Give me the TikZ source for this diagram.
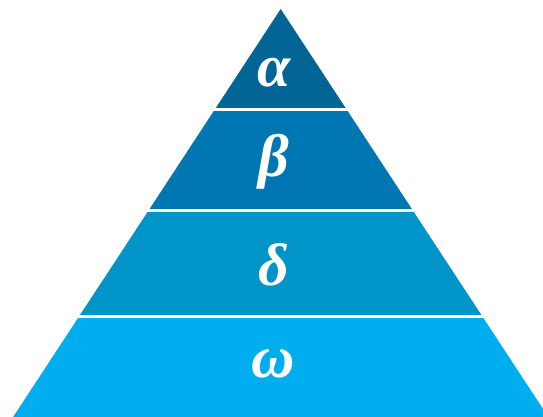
\documentclass[tikz,border=0pt]{standalone}
\usepackage{fontspec}
\usepackage{tikz}
\usetikzlibrary{calc}
\newfontfamily\greekfont{Liberation Serif}
\definecolor{clrA}{RGB}{3,101,150}
\definecolor{clrB}{RGB}{0,118,178}
\definecolor{clrD}{RGB}{1,148,201}
\definecolor{clrW}{RGB}{0,174,239}
\tikzset{
  layer/.style={draw=none},
  gap/.style={draw=white,line width=3pt},
  letter/.style={text=white,anchor=base,inner sep=0pt,
    font=\fontsize{60}{64}\selectfont\greekfont\bfseries\itshape}
}
\begin{document}
\begin{tikzpicture}[x=1pt,y=1pt]
  \useasboundingbox (0,0) rectangle (543,417);

  \coordinate (apex) at (280.7,408);
  \coordinate (bl) at (13.1,0);
  \coordinate (br) at (548.3,0);

  \coordinate (al) at ($(apex)!0.2463!(bl)$);
  \coordinate (ar) at ($(apex)!0.2463!(br)$);
  \coordinate (betl) at ($(apex)!0.4951!(bl)$);
  \coordinate (betr) at ($(apex)!0.4951!(br)$);
  \coordinate (dl) at ($(apex)!0.7525!(bl)$);
  \coordinate (dr) at ($(apex)!0.7525!(br)$);

  % the four layers, top to bottom
  \fill[layer,clrA] (apex) -- (al) -- (ar) -- cycle;
  \fill[layer,clrB] (al) -- (betl) -- (betr) -- (ar) -- cycle;
  \fill[layer,clrD] (betl) -- (dl) -- (dr) -- (betr) -- cycle;
  \fill[layer,clrW] (dl) -- (bl) -- (br) -- (dr) -- cycle;

  \draw[gap] ([xshift=-3pt]al) -- ([xshift=3pt]ar);
  \draw[gap] ([xshift=-3pt]betl) -- ([xshift=3pt]betr);
  \draw[gap] ([xshift=-3pt]dl) -- ([xshift=3pt]dr);

  \node[letter] (alpha) at (274.5,330) {α};
  \node[letter] (beta) at (273.5,240) {β};
  \node[letter] (delta) at (274,131) {δ};
  \node[letter] (omega) at (273.5,39) {ω};
\end{tikzpicture}
\end{document}
